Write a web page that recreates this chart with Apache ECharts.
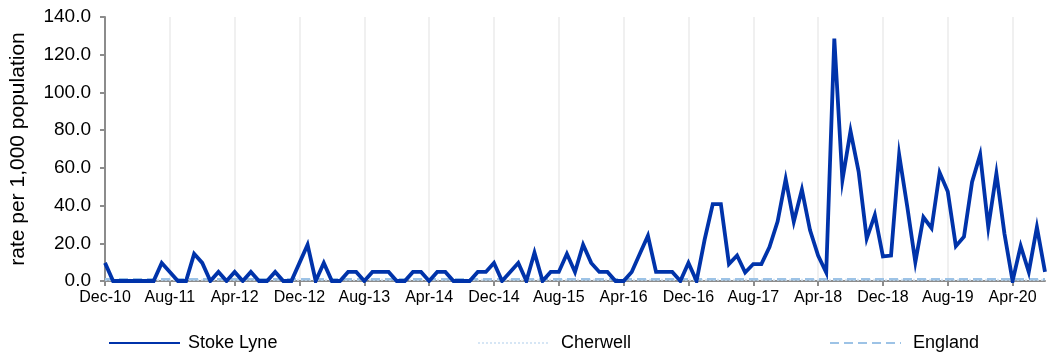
<!DOCTYPE html>
<html>
<head>
<meta charset="utf-8">
<script src="https://cdn.jsdelivr.net/npm/echarts@6/dist/echarts.min.js"></script>
<style>
html,body{margin:0;padding:0;background:#fff;}
#chart{width:1055px;height:358px;}
</style>
</head>
<body>
<div id="chart"></div>
<script>
var months = [
"Dec-10",
"Jan-11","Feb-11","Mar-11","Apr-11","May-11","Jun-11","Jul-11","Aug-11","Sep-11","Oct-11","Nov-11","Dec-11",
"Jan-12","Feb-12","Mar-12","Apr-12","May-12","Jun-12","Jul-12","Aug-12","Sep-12","Oct-12","Nov-12","Dec-12",
"Jan-13","Feb-13","Mar-13","Apr-13","May-13","Jun-13","Jul-13","Aug-13","Sep-13","Oct-13","Nov-13","Dec-13",
"Jan-14","Feb-14","Mar-14","Apr-14","May-14","Jun-14","Jul-14","Aug-14","Sep-14","Oct-14","Nov-14","Dec-14",
"Jan-15","Feb-15","Mar-15","Apr-15","May-15","Jun-15","Jul-15","Aug-15","Sep-15","Oct-15","Nov-15","Dec-15",
"Jan-16","Feb-16","Mar-16","Apr-16","May-16","Jun-16","Jul-16","Aug-16","Sep-16","Oct-16","Nov-16","Dec-16",
"Jan-17","Feb-17","Mar-17","Apr-17","May-17","Jun-17","Jul-17","Aug-17","Sep-17","Oct-17","Nov-17","Dec-17",
"Jan-18","Feb-18","Mar-18","Apr-18","May-18","Jun-18","Jul-18","Aug-18","Sep-18","Oct-18","Nov-18","Dec-18",
"Jan-19","Feb-19","Mar-19","Apr-19","May-19","Jun-19","Jul-19","Aug-19","Sep-19","Oct-19","Nov-19","Dec-19",
"Jan-20","Feb-20","Mar-20","Apr-20","May-20","Jun-20","Jul-20","Aug-20"
];

var stokeLyne = [
9.6,
0,0,0,0,0,0,9.6,4.8,0,0,14.4,9.6,
0,4.8,0,4.8,0,4.8,0,0,4.8,0,0,9.6,
19.2,0,9.6,0,0,4.8,4.8,0,4.8,4.8,4.8,0,
0,4.8,4.8,0,4.8,4.8,0,0,0,4.8,4.8,9.6,
0,4.8,9.6,0,15,0,4.8,4.8,14.4,4.8,19.2,9.6,
4.8,4.8,0,0,4.8,14.4,24,4.8,4.8,4.8,0,9.6,
0,22,40.8,40.8,9,13.5,4.5,9,9,18,31.5,54,
31.5,48.5,27,13.5,4.5,128.5,53.5,79.5,58,22.5,35,13,
13.5,67,39.5,10,33.8,28,57.5,47.5,18.5,23.5,52.5,67,
28.5,57,25,0,18.6,4.8,28.5,4.8
];

var cherwell = [
0.6,
0.6,0.6,0.6,0.6,0.6,0.6,0.6,0.6,0.6,0.6,0.6,0.6,
0.6,0.6,0.6,0.6,0.6,0.6,0.6,0.6,0.6,0.6,0.6,0.6,
0.6,0.6,0.6,0.6,0.6,0.6,0.6,0.6,0.6,0.6,0.6,0.6,
0.6,0.6,0.6,0.6,0.6,0.6,0.6,0.6,0.6,0.6,0.6,0.6,
0.6,0.6,0.6,0.6,0.6,0.6,0.6,0.6,0.6,0.6,0.6,0.6,
0.6,0.6,0.6,0.6,0.6,0.6,0.6,0.6,0.6,0.6,0.6,0.6,
0.6,0.6,0.6,0.6,0.6,0.6,0.6,0.6,0.6,0.6,0.6,0.6,
0.6,0.6,0.6,0.6,0.6,0.6,0.6,0.6,0.6,0.6,0.6,0.6,
0.6,0.6,0.6,0.6,0.6,0.6,0.6,0.6,0.6,0.6,0.6,0.6,
0.6,0.6,0.6,0.6,0.6,0.6,0.6,0.6
];

var england = [
0.9,
0.9,0.9,0.9,0.9,0.9,0.9,0.9,0.9,0.9,0.9,0.9,0.9,
0.9,0.9,0.9,0.9,0.9,0.9,0.9,0.9,0.9,0.9,0.9,0.9,
0.9,0.9,0.9,0.9,0.9,0.9,0.9,0.9,0.9,0.9,0.9,0.9,
0.9,0.9,0.9,0.9,0.9,0.9,0.9,0.9,0.9,0.9,0.9,0.9,
0.9,0.9,0.9,0.9,0.9,0.9,0.9,0.9,0.9,0.9,0.9,0.9,
0.9,0.9,0.9,0.9,0.9,0.9,0.9,0.9,0.9,0.9,0.9,0.9,
0.9,0.9,0.9,0.9,0.9,0.9,0.9,0.9,0.9,0.9,0.9,0.9,
0.9,0.9,0.9,0.9,0.9,0.9,0.9,0.9,0.9,0.9,0.9,0.9,
0.9,0.9,0.9,0.9,0.9,0.9,0.9,0.9,0.9,0.9,0.9,0.9,
0.9,0.9,0.9,0.9,0.9,0.9,0.9,0.9
];

var seriesNames = ["Stoke Lyne", "Cherwell", "England"];
var yAxisTitle = "rate per 1,000 population";

var FONT = "Liberation Sans, Arial, sans-serif";
var chart = echarts.init(document.getElementById('chart'), null, {renderer: 'canvas'});

function legendAt(name, left, textPad) {
  return {
    data: [name],
    left: left,
    top: 334,
    padding: 0,
    itemWidth: 71,
    itemHeight: 14,
    itemStyle: {opacity: 0},
    textStyle: {fontFamily: FONT, fontSize: 18, color: '#000', padding: [0, 0, 0, textPad]},
    selectedMode: false
  };
}

chart.setOption({
  animation: false,
  backgroundColor: '#fff',
  grid: {left: 105, right: 10, top: 17, bottom: 77},
  legend: [
    legendAt(seriesNames[0], 108, 3),
    legendAt(seriesNames[1], 477, 7),
    legendAt(seriesNames[2], 829, 7)
  ],
  xAxis: {
    type: 'category',
    data: months,
    boundaryGap: false,
    axisLine: {lineStyle: {color: '#8c8c8c', width: 2}},
    axisTick: {show: true, interval: 7, length: 5, lineStyle: {color: '#8c8c8c', width: 2}},
    axisLabel: {interval: 7, fontFamily: FONT, fontSize: 16, color: '#000', margin: 9, hideOverlap: false},
    splitLine: {show: true, interval: 7, lineStyle: {color: '#ebebeb', width: 1.5}}
  },
  yAxis: {
    type: 'value',
    min: 0,
    max: 140,
    interval: 20,
    name: yAxisTitle,
    nameLocation: 'middle',
    nameGap: 76,
    nameTextStyle: {fontFamily: FONT, fontSize: 21, color: '#000'},
    axisLine: {show: true, lineStyle: {color: '#8c8c8c', width: 2}},
    axisTick: {show: true, length: 5, lineStyle: {color: '#8c8c8c', width: 2}},
    axisLabel: {fontFamily: FONT, fontSize: 19, color: '#000', margin: 14,
      formatter: function (v) { return v.toFixed(1); }},
    splitLine: {show: false}
  },
  series: [
    {
      name: seriesNames[0], type: 'line', data: stokeLyne,
      symbol: 'none', z: 5,
      lineStyle: {color: '#0033AA', width: 3.8, join: 'miter'},
      itemStyle: {color: '#0033AA'}
    },
    {
      name: seriesNames[1], type: 'line', data: cherwell,
      symbol: 'none', z: 3,
      lineStyle: {color: '#D6E6F5', width: 2, type: 'dotted'},
      itemStyle: {color: '#D6E6F5'}
    },
    {
      name: seriesNames[2], type: 'line', data: england,
      symbol: 'none', z: 4,
      lineStyle: {color: '#9DC3E6', width: 2.5, type: [9, 5]},
      itemStyle: {color: '#9DC3E6'}
    }
  ]
});
</script>
</body>
</html>
